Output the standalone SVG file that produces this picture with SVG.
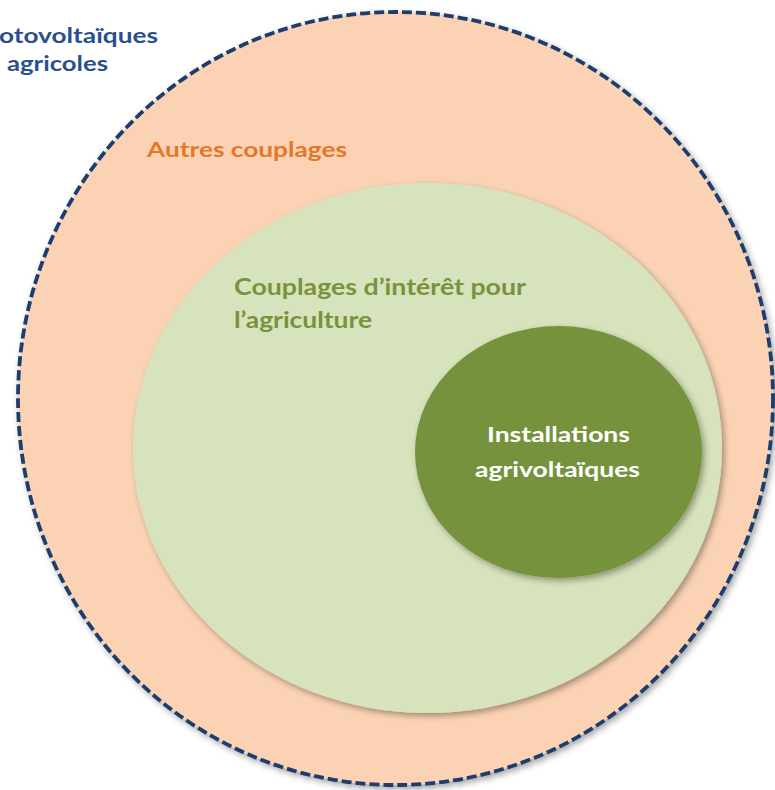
<svg xmlns="http://www.w3.org/2000/svg" width="775" height="790" viewBox="0 0 775 790">
  <defs>
    <filter id="shadow" x="-10%" y="-10%" width="125%" height="125%">
      <feDropShadow dx="2.5" dy="3" stdDeviation="3" flood-color="#000" flood-opacity="0.35"/>
    </filter>
  </defs>
  <style>
    .lbl { font-family: Lato, "Open Sans", "Liberation Sans", sans-serif; font-weight: bold; }
    .outer { fill: #FBD3B4; stroke: #1F3C6E; stroke-width: 3.8; stroke-dasharray: 10 4; }
    .mid { fill: #D7E3BC; }
    .inner { fill: #76923C; }
  </style>
  <rect x="0" y="0" width="775" height="790" fill="#FFFFFF"/>

  <g id="outer-set">
    <ellipse class="outer" cx="395.5" cy="398.5" rx="377.5" ry="386.5" filter="url(#shadow)"/>
    <text class="lbl" x="-1" y="43" font-size="21" fill="#2B4F8E" textLength="159" lengthAdjust="spacingAndGlyphs">otovoltaïques</text>
    <text class="lbl" x="7" y="71" font-size="21" fill="#2B4F8E" textLength="101" lengthAdjust="spacingAndGlyphs">agricoles</text>
    <text class="lbl" x="147" y="157" font-size="21" fill="#E3782B" textLength="200" lengthAdjust="spacingAndGlyphs">Autres couplages</text>
  </g>

  <g id="agri-interest">
    <ellipse class="mid" cx="427.5" cy="448" rx="294.5" ry="265" filter="url(#shadow)"/>
    <text class="lbl" x="234" y="295" font-size="22" fill="#77933C" textLength="292" lengthAdjust="spacingAndGlyphs">Couplages d’intérêt pour</text>
    <text class="lbl" x="234" y="328" font-size="22" fill="#77933C" textLength="138" lengthAdjust="spacingAndGlyphs">l’agriculture</text>
  </g>

  <g id="agrivoltaic">
    <ellipse class="inner" cx="558.5" cy="452" rx="143.5" ry="126" filter="url(#shadow)"/>
    <text class="lbl" x="558.5" y="442" font-size="21" fill="#FFFFFF" text-anchor="middle" textLength="143" lengthAdjust="spacingAndGlyphs">Installations</text>
    <text class="lbl" x="557.5" y="477" font-size="21" fill="#FFFFFF" text-anchor="middle" textLength="165" lengthAdjust="spacingAndGlyphs">agrivoltaïques</text>
  </g>
</svg>
